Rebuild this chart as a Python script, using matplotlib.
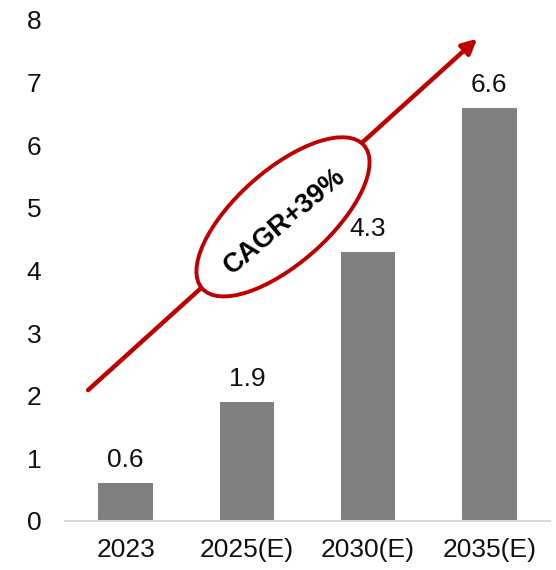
import matplotlib
matplotlib.use("Agg")
import matplotlib.pyplot as plt
from matplotlib.patches import Ellipse
from matplotlib.transforms import ScaledTranslation

plt.rcParams['font.family'] = ['Liberation Sans', 'DejaVu Sans']

categories = ["2023", "2025(E)", "2030(E)", "2035(E)"]
values = [0.6, 1.9, 4.3, 6.6]
y_ticks = [0, 1, 2, 3, 4, 5, 6, 7, 8]
cagr_text = "CAGR+39%"

bar_color = "#808080"
red = "#c00000"

fig = plt.figure(figsize=(5.56, 5.70), dpi=100)
ax = fig.add_axes([0.117, 0.086, 0.872, 0.879])

x = range(len(categories))
ax.bar(x, values, width=0.45, color=bar_color, zorder=2)

for xi, v in zip(x, values):
    ax.annotate(f"{v:.1f}", (xi, v), xytext=(0, 8), textcoords="offset points",
                ha="center", va="bottom", fontsize=19, color="#111111")

ax.set_xlim(-0.5, 3.5)
ax.set_ylim(0, 8)
ax.set_xticks(list(x))
ax.set_xticklabels(categories)
ax.set_yticks(y_ticks)
ax.tick_params(axis="both", length=0, labelsize=19, colors="#111111")
ax.tick_params(axis="y", pad=17)
ax.tick_params(axis="x", pad=12)

for side in ("left", "right", "top"):
    ax.spines[side].set_visible(False)
ax.spines["bottom"].set_color("#d9d9d9")
ax.spines["bottom"].set_linewidth(1.5)

# growth arrow
ax.annotate("", xy=(2.90, 7.70), xytext=(-0.31, 2.09),
            arrowprops=dict(arrowstyle="-|>", color=red, lw=3.2,
                            mutation_scale=22, shrinkA=0, shrinkB=0),
            zorder=3)

# CAGR ellipse with label
cx, cy = 1.298, 4.856
tr = fig.dpi_scale_trans + ScaledTranslation(cx, cy, ax.transData)
ell = Ellipse((0, 0), 2.16, 0.93, angle=41.5, transform=tr,
              facecolor="white", edgecolor=red, lw=2.8, zorder=4)
ax.add_patch(ell)
ax.text(1.310, 4.79, cagr_text, rotation=40, rotation_mode="anchor",
        ha="center", va="center", fontsize=19.5, fontweight="bold",
        color="black", zorder=5)

fig.savefig("out.png", dpi=100)
